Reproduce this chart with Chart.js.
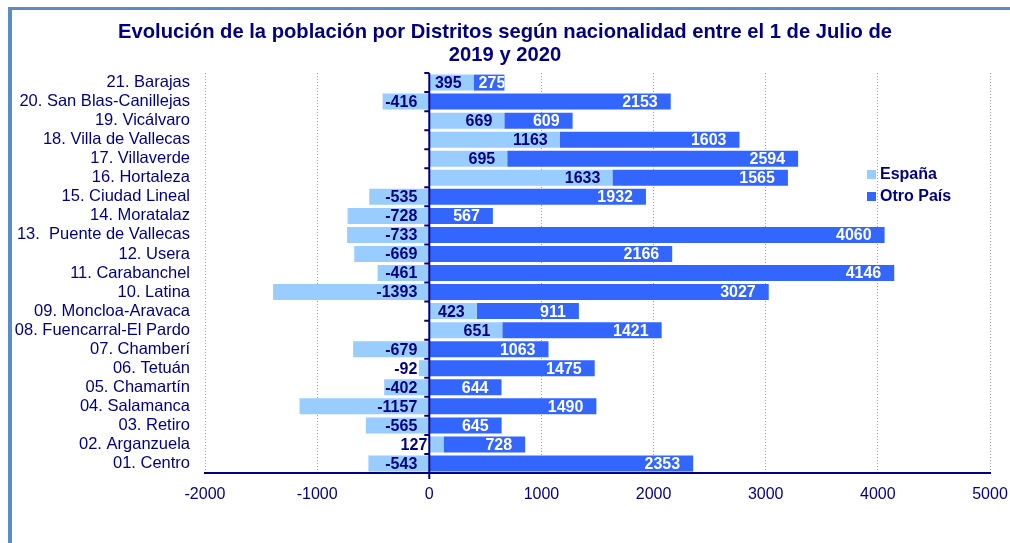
<!DOCTYPE html>
<html>
<head>
<meta charset="utf-8">
<script src="https://cdn.jsdelivr.net/npm/chart.js@4.4.1/dist/chart.umd.min.js"></script>
<style>
  body { margin: 0; background: #fff; overflow: hidden; }
  #frame { position: absolute; left: 8px; top: 7px; width: 1100px; height: 600px;
           border-left: 4px solid #5b8cc6; border-top: 3px solid #5b8cc6; }
  #wrap { position: absolute; left: 0; top: 0; width: 1010px; height: 543px; }
</style>
</head>
<body>
<div id="frame"></div>
<div id="wrap"><canvas id="poblacionChart" width="1010" height="543"></canvas></div>
<script>
const distritos = [
  "21. Barajas", "20. San Blas-Canillejas", "19. Vicálvaro", "18. Villa de Vallecas",
  "17. Villaverde", "16. Hortaleza", "15. Ciudad Lineal", "14. Moratalaz",
  "13.  Puente de Vallecas", "12. Usera", "11. Carabanchel", "10. Latina",
  "09. Moncloa-Aravaca", "08. Fuencarral-El Pardo", "07. Chamberí", "06. Tetuán",
  "05. Chamartín", "04. Salamanca", "03. Retiro", "02. Arganzuela", "01. Centro"
];
const espana = [395, -416, 669, 1163, 695, 1633, -535, -728, -733, -669, -461, -1393,
  423, 651, -679, -92, -402, -1157, -565, 127, -543];
const otroPais = [275, 2153, 609, 1603, 2594, 1565, 1932, 567, 4060, 2166, 4146, 3027,
  911, 1421, 1063, 1475, 644, 1490, 645, 728, 2353];

const navy = "#000080";
const colorEspana = "#99ccff";
const colorOtro = "#3366ff";

// ejes, etiquetas de valores y leyenda
const extras = {
  id: "extras",
  afterDatasetsDraw(chart) {
    const ctx = chart.ctx;
    const area = chart.chartArea;
    const x0 = chart.scales.x.getPixelForValue(0);

    ctx.save();
    ctx.font = "bold 16px Arial, 'Liberation Sans', sans-serif";
    ctx.textBaseline = "middle";
    ctx.textAlign = "right";

    const metaE = chart.getDatasetMeta(0);
    metaE.data.forEach(function (bar, i) {
      const v = espana[i];
      const txt = String(v);
      const w = ctx.measureText(txt).width;
      let right;
      if (v < 0) {
        right = x0 - 12;
      } else if (bar.x - bar.base < w + 12) {
        right = x0 - 2;
      } else {
        right = bar.x - 12;
      }
      ctx.fillStyle = navy;
      ctx.fillText(txt, right, bar.y + 1);
    });

    const metaO = chart.getDatasetMeta(1);
    metaO.data.forEach(function (bar, i) {
      const txt = String(otroPais[i]);
      const w = ctx.measureText(txt).width;
      const right = Math.max(bar.x - 13, bar.base + w + 5);
      ctx.save();
      ctx.beginPath();
      ctx.rect(bar.base, bar.y - bar.height / 2, bar.x - bar.base, bar.height);
      ctx.clip();
      ctx.fillStyle = "#ffffff";
      ctx.fillText(txt, right, bar.y + 1);
      ctx.restore();
    });

    // linea del cero y marcas
    ctx.strokeStyle = navy;
    ctx.lineWidth = 2;
    ctx.beginPath();
    ctx.moveTo(x0, area.top);
    ctx.lineTo(x0, area.bottom + 6);
    const step = (area.bottom - area.top) / distritos.length;
    for (let i = 0; i < distritos.length; i++) {
      const y = area.top + i * step;
      ctx.moveTo(x0 - 5, y);
      ctx.lineTo(x0, y);
    }
    ctx.stroke();

    // leyenda
    const items = [["España", colorEspana, 174], ["Otro País", colorOtro, 196]];
    items.forEach(function (it) {
      ctx.fillStyle = it[1];
      ctx.fillRect(867, it[2] - 4, 9, 9);
      ctx.fillStyle = navy;
      ctx.textAlign = "left";
      ctx.fillText(it[0], 880, it[2] + 1);
    });
    ctx.restore();
  }
};

new Chart("poblacionChart", {
  type: "bar",
  data: {
    labels: distritos,
    datasets: [
      { label: "España", data: espana, backgroundColor: colorEspana,
        barPercentage: 0.84, categoryPercentage: 1 },
      { label: "Otro País", data: otroPais, backgroundColor: colorOtro,
        barPercentage: 0.84, categoryPercentage: 1 }
    ]
  },
  options: {
    indexAxis: "y",
    responsive: false,
    animation: false,
    layout: { padding: { top: 21, left: 0, right: 0, bottom: 0 } },
    plugins: {
      legend: { display: false },
      tooltip: { enabled: false },
      title: {
        display: true,
        text: ["Evolución de la población por Distritos según nacionalidad entre el 1 de Julio de", "2019 y 2020"],
        color: navy,
        font: { family: "Arial, 'Liberation Sans', sans-serif", size: 20.2, weight: "bold", lineHeight: 1.14 },
        padding: { top: 0, bottom: 6 }
      }
    },
    scales: {
      x: {
        stacked: true,
        min: -2000,
        max: 5000,
        ticks: { stepSize: 1000, color: navy, padding: 12,
                 callback: function (v) { return String(v); },
                 font: { family: "Arial, 'Liberation Sans', sans-serif", size: 16 } },
        grid: { color: "#9a9a9a", lineWidth: 1, drawTicks: false },
        border: { display: true, color: navy, width: 2, dash: [1, 2] },
        afterFit: function (s) { s.height = 70; s.paddingLeft = 0; s.paddingRight = 20; }
      },
      y: {
        stacked: true,
        ticks: { color: navy, padding: 7, autoSkip: false,
                 font: { family: "Arial, 'Liberation Sans', sans-serif", size: 16.5 } },
        grid: { display: false },
        border: { display: false },
        afterFit: function (s) { s.width = 205; }
      }
    }
  },
  plugins: [extras]
});
</script>
</body>
</html>
